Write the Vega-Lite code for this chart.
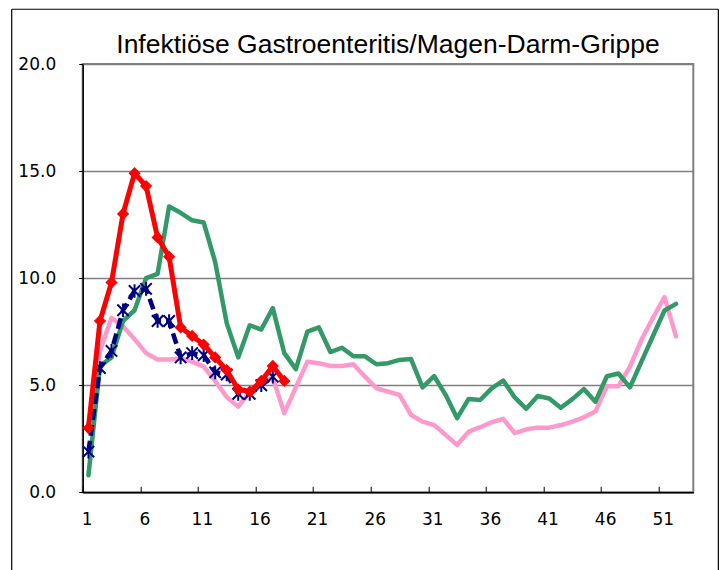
{
  "$schema": "https://vega.github.io/schema/vega-lite/v6.json",
  "width": 610.6,
  "height": 428.3,
  "autosize": {"type": "none"},
  "padding": {"left": 82.7, "top": 64, "right": 34.7, "bottom": 77.7},
  "background": "white",
  "title": {
    "text": "Infektiöse Gastroenteritis/Magen-Darm-Grippe",
    "font": "Liberation Sans",
    "fontSize": 26.5,
    "fontWeight": "normal",
    "color": "black",
    "anchor": "middle",
    "frame": "group",
    "offset": -49.5
  },
  "config": {
    "view": {"stroke": "#808080", "strokeWidth": 2}
  },
  "datasets": {
    "d": [
      {"s": "pink", "week": 1, "value": 3.2}, {"s": "pink", "week": 2, "value": 6.6}, {"s": "pink", "week": 3, "value": 8.15}, {"s": "pink", "week": 4, "value": 7.75}, {"s": "pink", "week": 5, "value": 7.15}, {"s": "pink", "week": 6, "value": 6.5}, {"s": "pink", "week": 7, "value": 6.2}, {"s": "pink", "week": 8, "value": 6.2}, {"s": "pink", "week": 9, "value": 6.25}, {"s": "pink", "week": 10, "value": 6.1}, {"s": "pink", "week": 11, "value": 5.87}, {"s": "pink", "week": 12, "value": 5.2}, {"s": "pink", "week": 13, "value": 4.45}, {"s": "pink", "week": 14, "value": 4.0}, {"s": "pink", "week": 15, "value": 4.7}, {"s": "pink", "week": 16, "value": 5.17}, {"s": "pink", "week": 17, "value": 5.33}, {"s": "pink", "week": 18, "value": 3.7}, {"s": "pink", "week": 19, "value": 4.9}, {"s": "pink", "week": 20, "value": 6.1}, {"s": "pink", "week": 21, "value": 6.03}, {"s": "pink", "week": 22, "value": 5.9}, {"s": "pink", "week": 23, "value": 5.9}, {"s": "pink", "week": 24, "value": 5.98}, {"s": "pink", "week": 25, "value": 5.4}, {"s": "pink", "week": 26, "value": 4.86}, {"s": "pink", "week": 27, "value": 4.7}, {"s": "pink", "week": 28, "value": 4.55}, {"s": "pink", "week": 29, "value": 3.61}, {"s": "pink", "week": 30, "value": 3.3}, {"s": "pink", "week": 31, "value": 3.14}, {"s": "pink", "week": 32, "value": 2.68}, {"s": "pink", "week": 33, "value": 2.21}, {"s": "pink", "week": 34, "value": 2.83}, {"s": "pink", "week": 35, "value": 3.04}, {"s": "pink", "week": 36, "value": 3.27}, {"s": "pink", "week": 37, "value": 3.43}, {"s": "pink", "week": 38, "value": 2.76}, {"s": "pink", "week": 39, "value": 2.94}, {"s": "pink", "week": 40, "value": 3.02}, {"s": "pink", "week": 41, "value": 3.02}, {"s": "pink", "week": 42, "value": 3.14}, {"s": "pink", "week": 43, "value": 3.3}, {"s": "pink", "week": 44, "value": 3.5}, {"s": "pink", "week": 45, "value": 3.77}, {"s": "pink", "week": 46, "value": 4.95}, {"s": "pink", "week": 47, "value": 4.95}, {"s": "pink", "week": 48, "value": 5.87}, {"s": "pink", "week": 49, "value": 7.12}, {"s": "pink", "week": 50, "value": 8.15}, {"s": "pink", "week": 51, "value": 9.11}, {"s": "pink", "week": 52, "value": 7.28},
      {"s": "green", "week": 1, "value": 0.8}, {"s": "green", "week": 2, "value": 5.9}, {"s": "green", "week": 3, "value": 6.3}, {"s": "green", "week": 4, "value": 8.0}, {"s": "green", "week": 5, "value": 8.5}, {"s": "green", "week": 6, "value": 10.0}, {"s": "green", "week": 7, "value": 10.2}, {"s": "green", "week": 8, "value": 13.35}, {"s": "green", "week": 9, "value": 13.05}, {"s": "green", "week": 10, "value": 12.7}, {"s": "green", "week": 11, "value": 12.6}, {"s": "green", "week": 12, "value": 10.75}, {"s": "green", "week": 13, "value": 7.9}, {"s": "green", "week": 14, "value": 6.3}, {"s": "green", "week": 15, "value": 7.8}, {"s": "green", "week": 16, "value": 7.6}, {"s": "green", "week": 17, "value": 8.6}, {"s": "green", "week": 18, "value": 6.5}, {"s": "green", "week": 19, "value": 5.75}, {"s": "green", "week": 20, "value": 7.5}, {"s": "green", "week": 21, "value": 7.7}, {"s": "green", "week": 22, "value": 6.55}, {"s": "green", "week": 23, "value": 6.75}, {"s": "green", "week": 24, "value": 6.35}, {"s": "green", "week": 25, "value": 6.35}, {"s": "green", "week": 26, "value": 5.98}, {"s": "green", "week": 27, "value": 6.03}, {"s": "green", "week": 28, "value": 6.18}, {"s": "green", "week": 29, "value": 6.22}, {"s": "green", "week": 30, "value": 4.9}, {"s": "green", "week": 31, "value": 5.43}, {"s": "green", "week": 32, "value": 4.55}, {"s": "green", "week": 33, "value": 3.46}, {"s": "green", "week": 34, "value": 4.36}, {"s": "green", "week": 35, "value": 4.31}, {"s": "green", "week": 36, "value": 4.85}, {"s": "green", "week": 37, "value": 5.22}, {"s": "green", "week": 38, "value": 4.43}, {"s": "green", "week": 39, "value": 3.9}, {"s": "green", "week": 40, "value": 4.5}, {"s": "green", "week": 41, "value": 4.38}, {"s": "green", "week": 42, "value": 3.95}, {"s": "green", "week": 43, "value": 4.35}, {"s": "green", "week": 44, "value": 4.82}, {"s": "green", "week": 45, "value": 4.23}, {"s": "green", "week": 46, "value": 5.42}, {"s": "green", "week": 47, "value": 5.55}, {"s": "green", "week": 48, "value": 4.9}, {"s": "green", "week": 49, "value": 6.1}, {"s": "green", "week": 50, "value": 7.3}, {"s": "green", "week": 51, "value": 8.49}, {"s": "green", "week": 52, "value": 8.8},
      {"s": "navy", "week": 1, "value": 1.9}, {"s": "navy", "week": 2, "value": 5.8}, {"s": "navy", "week": 3, "value": 6.6}, {"s": "navy", "week": 4, "value": 8.5}, {"s": "navy", "week": 5, "value": 9.4}, {"s": "navy", "week": 6, "value": 9.5}, {"s": "navy", "week": 7, "value": 8.0}, {"s": "navy", "week": 8, "value": 8.0}, {"s": "navy", "week": 9, "value": 6.3}, {"s": "navy", "week": 10, "value": 6.5}, {"s": "navy", "week": 11, "value": 6.4}, {"s": "navy", "week": 12, "value": 5.6}, {"s": "navy", "week": 13, "value": 5.5}, {"s": "navy", "week": 14, "value": 4.6}, {"s": "navy", "week": 15, "value": 4.6}, {"s": "navy", "week": 16, "value": 5.0}, {"s": "navy", "week": 17, "value": 5.4},
      {"s": "red", "week": 1, "value": 3.0}, {"s": "red", "week": 2, "value": 8.0}, {"s": "red", "week": 3, "value": 9.8}, {"s": "red", "week": 4, "value": 13.0}, {"s": "red", "week": 5, "value": 14.9}, {"s": "red", "week": 6, "value": 14.3}, {"s": "red", "week": 7, "value": 11.9}, {"s": "red", "week": 8, "value": 11.0}, {"s": "red", "week": 9, "value": 7.7}, {"s": "red", "week": 10, "value": 7.3}, {"s": "red", "week": 11, "value": 6.9}, {"s": "red", "week": 12, "value": 6.3}, {"s": "red", "week": 13, "value": 5.7}, {"s": "red", "week": 14, "value": 4.8}, {"s": "red", "week": 15, "value": 4.7}, {"s": "red", "week": 16, "value": 5.2}, {"s": "red", "week": 17, "value": 5.9}, {"s": "red", "week": 18, "value": 5.2}
    ]
  },
  "data": {"name": "d"},
  "layer": [
    {
      "encoding": {
        "x": {
          "field": "week",
          "type": "quantitative",
          "scale": {"domain": [0.5, 53.5], "nice": false, "zero": false},
          "axis": {
            "values": [0.5, 5.5, 10.5, 15.5, 20.5, 25.5, 30.5, 35.5, 40.5, 45.5, 50.5],
            "labelExpr": "'' + (datum.value + 0.5)",
            "labelOffset": 4,
            "labelFlush": false,
            "labelOverlap": false,
            "labelBound": false,
            "labelAngle": 0,
            "tickSize": -6,
            "tickColor": "black",
            "tickWidth": 1,
            "domainColor": "black",
            "domainWidth": 1.5,
            "grid": false,
            "title": null,
            "labelFont": "DejaVu Sans",
            "labelFontSize": 17,
            "labelColor": "black",
            "labelPadding": 25
          }
        },
        "y": {
          "field": "value",
          "type": "quantitative",
          "scale": {"domain": [0, 20], "nice": false, "zero": true},
          "axis": {
            "values": [0, 5, 10, 15, 20],
            "format": ".1f",
            "grid": true,
            "gridColor": "#808080",
            "gridWidth": 1.5,
            "tickSize": 4,
            "tickColor": "black",
            "domainColor": "black",
            "domainWidth": 1.5,
            "labelPadding": 23,
            "labelFlush": false,
            "labelOverlap": false,
            "labelFont": "DejaVu Sans",
            "labelFontSize": 17,
            "labelColor": "black",
            "title": null
          }
        }
      },
      "layer": [
        {
          "transform": [{"filter": "datum.s === 'pink'"}],
          "mark": {"type": "line", "color": "#FF99CC", "strokeWidth": 4.5, "strokeJoin": "round", "strokeCap": "round"}
        },
        {
          "transform": [{"filter": "datum.s === 'green'"}],
          "mark": {"type": "line", "color": "#339966", "strokeWidth": 4.5, "strokeJoin": "round", "strokeCap": "round"}
        },
        {
          "transform": [{"filter": "datum.s === 'navy'"}],
          "mark": {"type": "line", "color": "#000080", "strokeWidth": 4.5, "strokeDash": [11, 5], "strokeJoin": "round"}
        },
        {
          "transform": [{"filter": "datum.s === 'navy'"}],
          "mark": {"type": "point", "shape": "M-1,-1L1,1M-1,1L1,-1M0,-1.2L0,1.2", "filled": false, "color": "#000080", "size": 130, "strokeWidth": 2, "opacity": 1}
        },
        {
          "transform": [{"filter": "datum.s === 'red'"}],
          "mark": {"type": "line", "color": "#FF0000", "strokeWidth": 5, "strokeJoin": "round", "strokeCap": "round"}
        },
        {
          "transform": [{"filter": "datum.s === 'red'"}],
          "mark": {"type": "point", "shape": "diamond", "filled": true, "color": "#FF0000", "size": 150, "opacity": 1}
        }
      ]
    },
    {
      "data": {"values": [{"k": 1}]},
      "mark": {"type": "rule", "color": "black", "strokeWidth": 1.2, "clip": false},
      "encoding": {"x": {"datum": -5.663, "type": "quantitative"}, "y": {"datum": 22.557, "type": "quantitative"}, "y2": {"datum": -4}}
    },
    {
      "data": {"values": [{"k": 1}]},
      "mark": {"type": "rule", "color": "black", "strokeWidth": 1.2, "clip": false},
      "encoding": {"x": {"datum": 55.674, "type": "quantitative"}, "y": {"datum": 22.557, "type": "quantitative"}, "y2": {"datum": -4}}
    },
    {
      "data": {"values": [{"k": 1}]},
      "mark": {"type": "rule", "color": "black", "strokeWidth": 1.2, "clip": false},
      "encoding": {"x": {"datum": -5.663, "type": "quantitative"}, "x2": {"datum": 55.674}, "y": {"datum": 22.557, "type": "quantitative"}}
    }
  ]
}
